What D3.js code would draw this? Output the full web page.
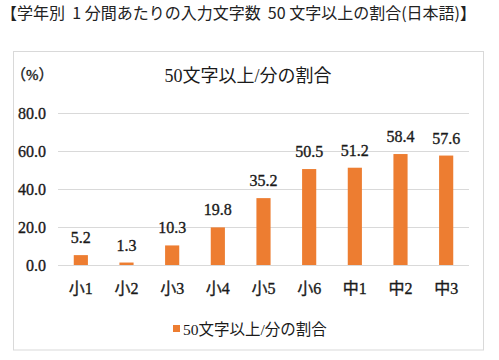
<!DOCTYPE html>
<html><head><meta charset="utf-8">
<script src="https://cdn.jsdelivr.net/npm/d3@7"></script>
<style>
html,body{margin:0;padding:0;background:#fff;}
svg{display:block;}
.serif{font-family:"Liberation Serif","Noto Sans CJK JP",serif;}
.semi{stroke:#1a1a1a;stroke-width:0.35px;paint-order:stroke;}
</style></head>
<body>
<svg id="chart" width="499" height="360"></svg>
<script>
const pageTitle = "【学年別\u00a0\u00a01\u00a0分間あたりの入力文字数\u00a0\u00a050\u00a0文字以上の割合(日本語)】";
const chartTitle = "50文字以上/分の割合";
const seriesName = "50文字以上/分の割合";
const categories = ["小1","小2","小3","小4","小5","小6","中1","中2","中3"];
const values = [5.2, 1.3, 10.3, 19.8, 35.2, 50.5, 51.2, 58.4, 57.6];
const yTicks = [0, 20, 40, 60, 80];
const unitLabel = "（%）";

const svg = d3.select("#chart");

svg.append("text").attr("x", 1).attr("y", 19)
  .attr("font-family", "'Noto Sans CJK JP',sans-serif").attr("font-size", 16)
  .attr("fill", "#222").text(pageTitle);

svg.append("rect").attr("x", 13.5).attr("y", 51.5).attr("width", 470).attr("height", 298.5)
  .attr("fill", "#fff").attr("stroke", "#d9d9d9").attr("stroke-width", 1);

const x = d3.scaleBand().domain(categories).range([58, 469]).paddingInner(0.69).paddingOuter(0.345);
const y = d3.scaleLinear().domain([0, 80]).range([265, 113]);

// gridlines
svg.append("g").selectAll("line").data(yTicks).join("line")
  .attr("x1", 58).attr("x2", 469)
  .attr("y1", d => Math.round(y(d)) + 0.5).attr("y2", d => Math.round(y(d)) + 0.5)
  .attr("stroke", "#d9d9d9").attr("stroke-width", 1);

// y axis labels
const yAxis = d3.axisLeft(y).tickValues(yTicks).tickFormat(d3.format(".1f")).tickSize(0).tickPadding(0);
const yg = svg.append("g").attr("transform", "translate(46,0)").call(yAxis);
yg.select(".domain").remove();
yg.attr("font-family", null).attr("font-size", null);
yg.selectAll("text").attr("class", "serif semi").attr("font-size", 16).attr("fill", "#1a1a1a")
  .attr("dy", "0.35em");

// bars
svg.append("g").selectAll("rect").data(values).join("rect")
  .attr("x", (d, i) => x(categories[i]))
  .attr("width", x.bandwidth())
  .attr("y", d => y(d))
  .attr("height", d => y(0) - y(d))
  .attr("fill", "#ED7D31");

// data labels
svg.append("g").selectAll("text").data(values).join("text")
  .attr("class", "serif semi")
  .attr("x", (d, i) => x(categories[i]) + x.bandwidth() / 2)
  .attr("y", d => y(d) - 12)
  .attr("text-anchor", "middle").attr("font-size", 16).attr("fill", "#1a1a1a")
  .text(d => d.toFixed(1));

// x axis labels
const xAxis = d3.axisBottom(x).tickSize(0).tickPadding(0);
const xg = svg.append("g").attr("transform", "translate(0,265)").call(xAxis);
xg.select(".domain").remove();
xg.attr("font-family", null).attr("font-size", null);
xg.selectAll("text").attr("class", "serif semi").attr("font-size", 16).attr("fill", "#1a1a1a")
  .attr("dy", null).attr("y", 29);

// unit label
svg.append("text").attr("class", "serif semi").attr("x", 11).attr("y", 80)
  .attr("font-size", 15).attr("fill", "#1a1a1a").text(unitLabel);

// chart title
svg.append("text").attr("class", "serif").attr("x", 248).attr("y", 82)
  .attr("text-anchor", "middle").attr("font-size", 18).attr("fill", "#1a1a1a").text(chartTitle);

// legend
const lg = svg.append("g");
lg.append("rect").attr("x", 173).attr("y", 325).attr("width", 7).attr("height", 7).attr("fill", "#ED7D31");
lg.append("text").attr("class", "serif").attr("x", 183).attr("y", 335)
  .attr("font-size", 15.5).attr("fill", "#1a1a1a").text(seriesName);
</script>
</body></html>
